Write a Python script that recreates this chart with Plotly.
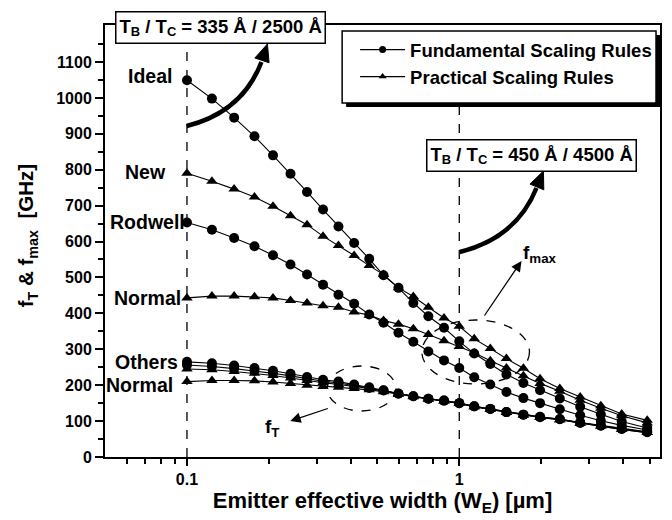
import plotly.graph_objects as go
import math

# ---------------- data ----------------
W_E = [0.1, 0.1235, 0.149, 0.177, 0.207, 0.240, 0.276, 0.316, 0.360, 0.411, 0.467, 0.527, 0.598,
       0.678, 0.770, 0.879, 1.0, 1.135, 1.30, 1.49, 1.72, 1.98, 2.34, 2.78, 3.31, 3.95, 4.9]

fmax_ideal = [1049, 998, 945, 893, 840, 789, 738, 689, 642, 596, 552, 506, 471, 429, 392, 360,
              322, 288, 259, 230, 206, 186, 163, 140, 119, 99, 81]
fmax_new = [790, 768, 746, 724, 698, 672, 647, 615, 589, 561, 533, 508, 471, 447, 417, 387,
            364, 329, 302, 274, 247, 218, 191, 167, 143, 120, 102]
fmax_rodwell = [653, 633, 610, 587, 562, 536, 508, 480, 452, 427, 397, 374, 346, 321, 294, 269,
                248, 222, 202, 181, 164, 150, 133, 116, 101, 88, 75]
fmax_normal = [443, 448, 448, 446, 443, 436, 429, 421, 417, 404, 395, 380, 370, 357, 341, 324,
               308, 290, 268, 248, 226, 205, 183, 158, 136, 115, 95]

ft_ideal = [265, 261, 255, 248, 240, 232, 223, 215, 210, 202, 194, 186, 177, 169, 162, 157,
            150, 141, 134, 125, 118, 112, 106, 96, 88, 79, 70]
ft_rodwell = [256, 252, 246, 240, 233, 226, 218, 211, 206, 199, 192, 185, 176, 169, 162, 157,
              150, 141, 134, 125, 118, 111, 105, 95, 87, 78, 69]
ft_new = [245, 243, 238, 233, 227, 220, 213, 207, 202, 197, 191, 184, 176, 169, 162, 156,
          149, 140, 133, 124, 117, 110, 104, 94, 86, 77, 68]
ft_normal = [210, 213, 213, 212, 209, 205, 200, 196, 194, 191, 187, 182, 175, 168, 161, 156,
             149, 140, 133, 124, 117, 110, 104, 94, 86, 77, 68]

legend_names = ["Fundamental Scaling Rules", "Practical Scaling Rules"]
x_major = [0.1, 1]
x_minor = [0.06, 0.07, 0.08, 0.09, 0.2, 0.3, 0.4, 0.5, 0.6, 0.7, 0.8, 0.9, 2, 3, 4, 5]
y_major = list(range(0, 1101, 100))
y_minor = list(range(50, 1151, 100))

FONT = "Liberation Sans"

# ---------------- layout geometry ----------------
W, H = 672, 520
L, R, T, B = 105, 10, 25, 63
PW, PH = W - L - R, H - T - B


def px(X):
    return (X - L) / PW


def py(Y):
    return (H - B - Y) / PH


fig = go.Figure()

series = [
    (fmax_ideal, "circle", 10),
    (fmax_new, "triangle-up", 10),
    (fmax_rodwell, "circle", 10),
    (fmax_normal, "triangle-up", 10),
    (ft_ideal, "circle", 10),
    (ft_rodwell, "circle", 10),
    (ft_new, "triangle-up", 10),
    (ft_normal, "triangle-up", 10),
]
for ys, sym, sz in series:
    fig.add_trace(go.Scatter(
        x=W_E, y=ys, mode="lines+markers", showlegend=False,
        line=dict(color="black", width=1.1),
        marker=dict(symbol=sym, size=sz, color="black"),
    ))

# legend-only entries (small symbols as in the reference legend)
for i, (name, sym) in enumerate(zip(legend_names, ["circle", "triangle-up"])):
    fig.add_trace(go.Scatter(
        x=[None], y=[None], mode="lines+markers", name=name, legendgroup="g%d" % i,
        line=dict(color="black", width=1.3),
        marker=dict(symbol=sym, size=7, color="black"),
    ))

shapes = []
# vertical dashed guide lines
for xv in x_major:
    shapes.append(dict(type="line", xref="x", yref="paper", x0=xv, x1=xv, y0=0, y1=1,
                       line=dict(color="black", width=1.3, dash="dash"), layer="below"))

# legend box with shadow
lx0, lx1, ly0, ly1 = 343, 658, 31, 103
shapes.append(dict(type="rect", xref="paper", yref="paper", x0=px(lx0 + 4), x1=px(lx1 + 4),
                   y0=py(ly1 + 4), y1=py(ly0 + 4), fillcolor="black", line=dict(width=0), layer="above"))
shapes.append(dict(type="rect", xref="paper", yref="paper", x0=px(lx0), x1=px(lx1),
                   y0=py(ly1), y1=py(ly0), fillcolor="white", line=dict(color="black", width=1.5),
                   layer="above"))

# dashed ellipses
shapes.append(dict(type="circle", xref="paper", yref="paper", x0=px(423), x1=px(531),
                   y0=py(384), y1=py(320), line=dict(color="black", width=1.3, dash="dash"),
                   layer="above"))
shapes.append(dict(type="circle", xref="paper", yref="paper", x0=px(328), x1=px(397),
                   y0=py(411), y1=py(366), line=dict(color="black", width=1.3, dash="dash"),
                   layer="above"))


def curved_arrow(p0, c, p1, tip, width=4.5, head_w=15):
    path = "M {},{} Q {},{} {},{}".format(px(p0[0]), py(p0[1]), px(c[0]), py(c[1]),
                                           px(p1[0]), py(p1[1]))
    shapes.append(dict(type="path", xref="paper", yref="paper", path=path,
                       line=dict(color="black", width=width), layer="above"))
    dx, dy = tip[0] - p1[0], tip[1] - p1[1]
    n = math.hypot(dx, dy)
    ux, uy = dx / n, dy / n
    hl = head_w * 1.15
    bx, by = tip[0] - ux * hl, tip[1] - uy * hl
    nx, ny = -uy, ux
    a = (bx + nx * head_w / 2, by + ny * head_w / 2)
    b_ = (bx - nx * head_w / 2, by - ny * head_w / 2)
    hp = "M {},{} L {},{} L {},{} Z".format(px(tip[0]), py(tip[1]), px(a[0]), py(a[1]),
                                             px(b_[0]), py(b_[1]))
    shapes.append(dict(type="path", xref="paper", yref="paper", path=hp, fillcolor="black",
                       line=dict(color="black", width=1), layer="above"))


curved_arrow((187, 126), (243, 112), (262, 62), (268, 44))
curved_arrow((461, 252), (518, 238), (538, 188), (545, 171))

ann = []


def text(x, y, s, size=19.5, xanchor="center", yanchor="middle", **kw):
    ann.append(dict(x=px(x), y=py(y), xref="paper", yref="paper", text=s, showarrow=False,
                    xanchor=xanchor, yanchor=yanchor,
                    font=dict(family=FONT, size=size, color="black", weight="bold"), **kw))


# boxed thickness annotations
text(221, 27, "T<sub>B</sub> / T<sub>C</sub> = 335 Å / 2500 Å", size=18.5,
     bgcolor="white", bordercolor="black", borderwidth=1.5, borderpad=3)
text(533, 155, "T<sub>B</sub> / T<sub>C</sub> = 450 Å / 4500 Å", size=18.5,
     bgcolor="white", bordercolor="black", borderwidth=1.5, borderpad=3)

# curve labels
text(150, 76, "Ideal")
text(146, 172, "New")
text(148, 222, "Rodwell")
text(148, 298, "Normal")
text(147, 362, "Others")
text(140, 385, "Normal")

text(522, 254, "f<sub>max</sub>", size=19, xanchor="left")
text(264, 428, "f<sub>T</sub>", size=19, xanchor="left")

# axis titles
text(27, 236, "f<sub>T</sub> & f<sub>max</sub>  [GHz]", size=20.5, textangle=-90)

# thin arrows
for (x0, y0, x1, y1) in [(485, 317, 523, 261), (330, 408, 291, 421)]:
    ann.append(dict(x=px(x1), y=py(y1), xref="paper", yref="paper", ax=x0 - x1, ay=y0 - y1,
                    axref="pixel", ayref="pixel", showarrow=True, arrowhead=2, arrowsize=1.6,
                    arrowwidth=1.3, arrowcolor="black", text=""))

axis_common = dict(showline=True, linecolor="black", linewidth=2, mirror=True, ticks="outside",
                   tickcolor="black", tickwidth=1.5, showgrid=False, zeroline=False,
                   tickfont=dict(family=FONT, size=16, color="black", weight="bold"))

fig.update_layout(
    width=W, height=H, margin=dict(l=L, r=R, t=T, b=B),
    plot_bgcolor="white", paper_bgcolor="white",
    shapes=shapes, annotations=ann,
    showlegend=True,
    legend=dict(x=px(356), y=py(31), xanchor="left", yanchor="top", bgcolor="rgba(0,0,0,0)",
                borderwidth=0, traceorder="grouped", tracegroupgap=0, itemwidth=45,
                font=dict(family=FONT, size=18.5, color="black", weight="bold")),
    xaxis=dict(type="log", range=[math.log10(0.05), math.log10(5.46)], tickvals=x_major,
               ticktext=["0.1", "1"], ticklen=7,
               minor=dict(tickvals=x_minor, ticks="outside", ticklen=5, tickcolor="black",
                          tickwidth=1.5),
               title=dict(text="<b>Emitter effective width (W<sub>E</sub>) [µm]</b>", standoff=4,
                          font=dict(family=FONT, size=22, color="black")),
               **axis_common),
    yaxis=dict(range=[0, 1203], tickvals=y_major, ticklen=8,
               minor=dict(tickvals=y_minor, ticks="outside", ticklen=5, tickcolor="black",
                          tickwidth=1.5),
               **axis_common),
)

fig.write_html("out.html")
